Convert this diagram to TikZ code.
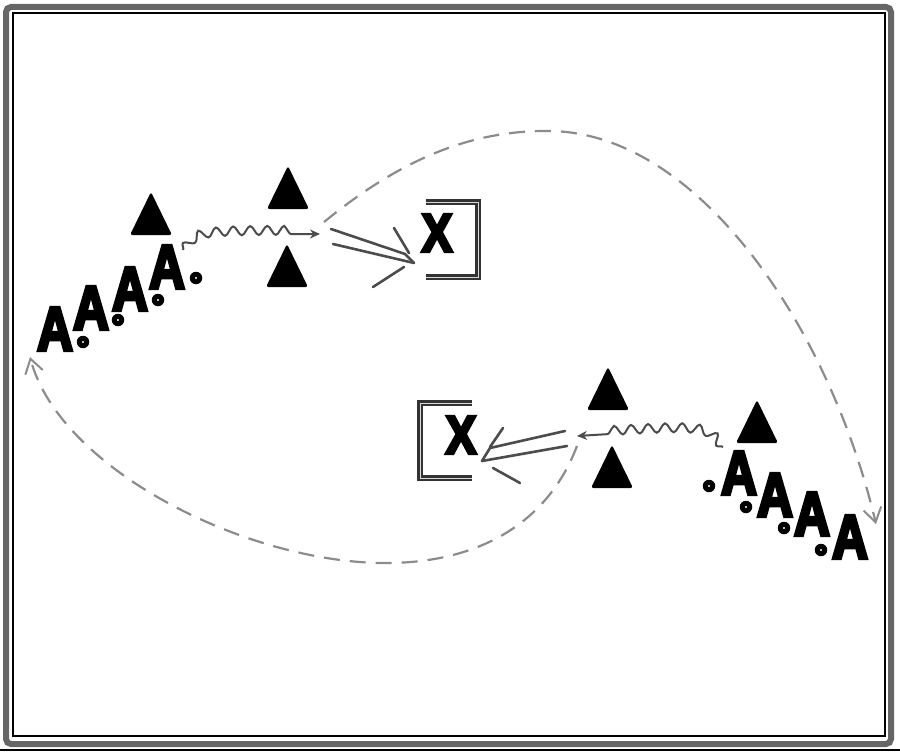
\documentclass[tikz,border=0pt]{standalone}
\usepackage{fontspec}
\setmainfont{Liberation Sans}
\newfontfamily\pfont[FakeBold=6]{Liberation Sans Bold}
\usetikzlibrary{decorations.pathmorphing,arrows.meta}
\begin{document}
\begin{tikzpicture}[x=1pt,y=-1pt,
  player/.style={inner sep=0pt,font=\pfont\fontsize{62}{62}\selectfont,xscale=0.8},
  xmark/.style={inner sep=0pt,font=\pfont\fontsize{54}{54}\selectfont,xscale=0.85},
  ring/.style={circle,fill=black,minimum size=12.5pt,inner sep=0pt,path picture={\fill[white] (path picture bounding box.center) circle (1.2pt);}},
  cone/.pic={\fill[rounded corners=2.5pt] (-21,21) -- (0,-22) -- (21,21) -- cycle;},
  bracket/.style={draw=black!80,line width=2.2pt,double=black!15,double distance=1pt},
  wave/.style={draw=black!70,line width=2pt,decorate,decoration={snake,amplitude=4.5pt,segment length=17pt,post length=26pt}},
  wavetip/.style={-{Stealth[length=10pt,width=9pt]}},
  dbl/.style={draw=black!70,line width=2.6pt,line cap=round,line join=round},
  run/.style={draw=black!45,line width=2.2pt,dash pattern=on 16pt off 10pt},
  runtip/.style={-{Straight Barb[length=14pt,width=18pt,line width=2pt]}}
]
\useasboundingbox (0,0) rectangle (900,752);
% frame
\draw[black!60,line width=6pt,rounded corners=5pt] (6,7) rectangle (891,744);
\draw[black,line width=1.4pt] (13,13) rectangle (885,736);
\draw[black,line width=1.4pt] (0,750) -- (900,750);

% upper group
\pic at (151,214) {cone};
\pic at (288,188) {cone};
\pic at (287,266) {cone};
\node[player] (a1) at (55,329) {A};
\node[player] (a2) at (91,308) {A};
\node[player] (a3) at (130,289) {A};
\node[player] (a4) at (167,267) {A};
\node[ring] (d1) at (83,342) {};
\node[ring] (d2) at (118,320) {};
\node[ring] (d3) at (158,300) {};
\node[ring] (d4) at (196,278) {};
\node[xmark] (x1) at (437,233) {X};
\draw[bracket] (426,202) -- (478,202) -- (478,277) -- (426,277);

% lower group
\pic at (608,389) {cone};
\pic at (612,467) {cone};
\pic at (757,422) {cone};
\node[player] (b1) at (739,473) {A};
\node[player] (b2) at (775,495) {A};
\node[player] (b3) at (812,514) {A};
\node[player] (b4) at (850,537) {A};
\node[ring] (e1) at (709,486) {};
\node[ring] (e2) at (746,507) {};
\node[ring] (e3) at (784,528) {};
\node[ring] (e4) at (821,550) {};
\node[xmark] (x2) at (461,435) {X};
\draw[bracket] (472,403) -- (420,403) -- (420,478) -- (472,478);

% coordinates
\coordinate (w1s) at (183,250);
\coordinate (w1t) at (320,234);
\coordinate (w2s) at (723,447);
\coordinate (w2t) at (577,436);
\coordinate (r1s) at (324,222);
\coordinate (r1t) at (876,524);
\coordinate (r2s) at (577,446);
\coordinate (r2t) at (30,357);

% wavy dribble arrows
\draw[wave,wavetip] (w1s) .. controls (196,234) .. (w1t);
\draw[wave,wavetip] (w2s) .. controls (708,428) .. (w2t);

% double pass arrows (upper)
\coordinate (p1a) at (331,229);
\coordinate (p1b) at (333,244);
\coordinate (p1t) at (414,263);
\draw[dbl] (p1a) -- (405,254) -- (p1t);
\draw[dbl] (p1b) -- (p1t);
\draw[dbl] (394,228) -- (409,253);
\draw[dbl] (373,287) -- (404,267);
% double pass arrows (lower)
\coordinate (p2a) at (565,431);
\coordinate (p2b) at (567,446);
\coordinate (p2t) at (482,461);
\draw[dbl] (p2a) -- (490,448) -- (p2t);
\draw[dbl] (p2b) -- (p2t);
\draw[dbl] (503,428) -- (490,447);
\draw[dbl] (520,483) -- (493,468);

% dashed runs
\draw[run,runtip] (r1s) .. controls (400,160) and (470,130) .. (550,131)
   .. controls (700,133) and (830,330) .. (r1t);
\draw[run,runtip] (r2s) .. controls (545,530) and (470,562) .. (390,563)
   .. controls (250,565) and (60,470) .. (r2t);
\end{tikzpicture}
\end{document}
